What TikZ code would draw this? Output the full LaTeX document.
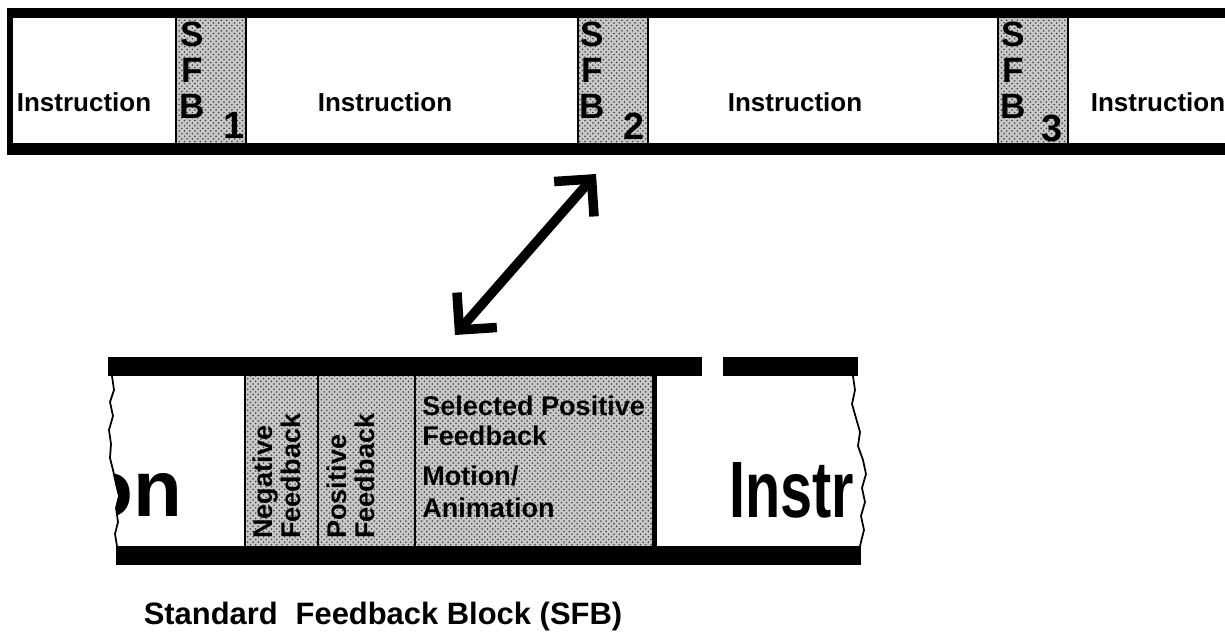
\documentclass[tikz,border=0pt]{standalone}
\usepackage{fontspec}
\setmainfont{Liberation Sans}
\newfontfamily\narrowsans[FakeStretch=0.72]{Liberation Sans}
\usetikzlibrary{arrows.meta,patterns}
\definecolor{sfbgray}{RGB}{200,200,200}
\newcommand{\fsz}[2]{\fontsize{#1}{#2}\selectfont\bfseries}

\begin{document}
\begin{tikzpicture}[x=0.02cm,y=-0.02cm,
  stipple/.style={fill=sfbgray,postaction={pattern=crosshatch dots,pattern color=black!75}},
  bar/.style={fill=black},
  cellline/.style={draw=black,line width=1.2pt},
  instr/.style={font=\fsz{14.8pt}{15pt},inner sep=0pt},
  sfbtext/.style={font=\fsz{20pt}{20.5pt},align=center,inner sep=0pt,anchor=north},
  sfbnum/.style={font=\fsz{21.6pt}{22pt},inner sep=0pt},
  fbtext/.style={font=\fsz{15.4pt}{15.4pt},align=left,inner sep=0pt},
  bigtext/.style={font=\fsz{45.5pt}{46pt},inner sep=0pt},
  torn/.style={draw=black,line width=1pt}]
  \useasboundingbox (0,0) rectangle (1225,637);
  % top strip
  \fill[stipple] (176,18) rectangle (246,143);
  \fill[stipple] (578,18) rectangle (648,143);
  \fill[stipple] (998,18) rectangle (1068,143);
  \foreach \x in {176,246,578,648,998,1068}
    \draw[cellline] (\x,18) -- (\x,143);
  \node[instr] (insA) at (84,102) {Instruction};
  \node[instr] (insB) at (385,102) {Instruction};
  \node[instr] (insC) at (795,102) {Instruction};
  \node[instr] (insD) at (1158,102) {Instruction};
  \node[sfbtext] (sfbA) at (192,22) {S\\F\\B};
  \node[sfbnum] (numA) at (234,125) {1};
  \node[sfbtext] (sfbB) at (592,22) {S\\F\\B};
  \node[sfbnum] (numB) at (634,126) {2};
  \node[sfbtext] (sfbC) at (1013,22) {S\\F\\B};
  \node[sfbnum] (numC) at (1052,128) {3};
  \fill[bar] (7,8) rectangle (1225,18);
  \fill[bar] (7,143) rectangle (1225,155);
  \fill[bar] (7,8) rectangle (13,155);

  % arrow between the strips
  \coordinate (tipT) at (596,174);
  \coordinate (tipB) at (455,335);
  \draw[line width=0.19cm,{Straight Barb[angle=90:0.75cm]}-{Straight Barb[angle=90:0.75cm]}] (tipB) -- (tipT);

  % enlarged block
  \fill[stipple] (246,376) rectangle (655,546);
  \foreach \x in {245,318,415}
    \draw[cellline] (\x,376) -- (\x,546);
  \fill[bar] (652,376) rectangle (657,546);
  \node[fbtext,rotate=90,anchor=north west] (negfb) at (253,539) {Negative\\Feedback};
  \node[fbtext,rotate=90,anchor=north west] (posfb) at (327,539) {Positive\\Feedback};
  \node[fbtext,anchor=north west,font=\fsz{15.4pt}{17pt}] (selfb) at (422,396) {Selected Positive\\Feedback};
  \node[fbtext,anchor=north west,font=\fsz{15.4pt}{18.2pt}] (motion) at (422,466) {Motion/\\Animation};
  \node[bigtext,anchor=base east] (tailon) at (183,516) {on};
  \node[bigtext,font=\narrowsans\fsz{45.5pt}{46pt},anchor=base west] (headins) at (729,517) {Instr};
  % torn ends
  \fill[white] (40,376) -- (112,376) -- (114,390) -- (110,402) -- (113,416) -- (109,430) -- (111,444)
    -- (110,458) -- (113,470) -- (116,484) -- (119,496) -- (116,508) -- (118,522) -- (115,534)
    -- (117,546) -- (40,546) -- cycle;
  \fill[white] (920,376) -- (853,376) -- (855,390) -- (852,404) -- (856,418) -- (860,432) -- (858,446)
    -- (863,460) -- (866,474) -- (862,488) -- (865,502) -- (861,516) -- (864,530) -- (860,546)
    -- (920,546) -- cycle;
  \draw[torn] (112,376) -- (114,390) -- (110,402) -- (113,416) -- (109,430) -- (111,444)
    -- (110,458) -- (113,470) -- (116,484) -- (119,496) -- (116,508) -- (118,522) -- (115,534)
    -- (117,546);
  \draw[torn] (853,376) -- (855,390) -- (852,404) -- (856,418) -- (860,432) -- (858,446)
    -- (863,460) -- (866,474) -- (862,488) -- (865,502) -- (861,516) -- (864,530) -- (860,546);
  \fill[bar] (108,357) rectangle (702,376);
  \fill[bar] (723,357) rectangle (858,376);
  \fill[bar] (116,546) rectangle (861,565);

  \node[font=\fsz{17.6pt}{18pt},anchor=base] (title) at (383,624) {Standard\hspace{0.3em} Feedback Block (SFB)};
\end{tikzpicture}
\end{document}
